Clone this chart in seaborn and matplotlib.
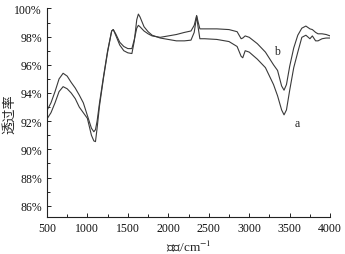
import numpy as np
import pandas as pd
import matplotlib
matplotlib.use("Agg")
import matplotlib.pyplot as plt
import seaborn as sns
from matplotlib.ticker import MultipleLocator, FuncFormatter

wavenumber = [500, 550, 600, 650, 700, 750, 800, 850, 900, 950, 1000, 1050, 1080, 1100,
              1120, 1150, 1200, 1250, 1300, 1320, 1350, 1400, 1450, 1500, 1550, 1580,
              1610, 1630, 1650, 1700, 1750, 1800, 1900, 2000, 2100, 2200, 2280, 2320,
              2350, 2370, 2390, 2450, 2600, 2750, 2850, 2900, 2920, 2950, 3000, 3100,
              3200, 3300, 3350, 3400, 3430, 3460, 3500, 3550, 3600, 3650, 3700, 3750,
              3780, 3820, 3850, 3900, 3950, 4000]

trans_b = [92.75, 93.3, 94.1, 95.0, 95.4, 95.2, 94.75, 94.35, 93.85, 93.3, 92.4, 91.5, 91.25, 91.4,
           92.0, 93.3, 95.2, 97.0, 98.4, 98.5, 98.2, 97.6, 97.3, 97.15, 97.15, 97.8,
           98.6, 98.8, 98.7, 98.4, 98.2, 98.05, 97.95, 98.05, 98.15, 98.3, 98.4, 98.8,
           99.5, 99.0, 98.55, 98.55, 98.55, 98.5, 98.35, 97.85, 97.9, 98.05, 97.95, 97.5,
           96.9, 96.0, 95.6, 94.5, 94.2, 94.6, 95.9, 97.2, 98.1, 98.6, 98.75, 98.55,
           98.5, 98.3, 98.2, 98.2, 98.15, 98.05]

trans_a = [92.15, 92.6, 93.3, 94.1, 94.45, 94.3, 94.0, 93.6, 93.0, 92.6, 92.2, 91.0, 90.6, 90.55,
           91.5, 93.1, 95.1, 96.9, 98.4, 98.5, 98.1, 97.4, 97.0, 96.85, 96.8, 97.7,
           99.2, 99.6, 99.4, 98.7, 98.35, 98.1, 97.9, 97.8, 97.7, 97.7, 97.75, 98.3,
           99.45, 98.6, 97.85, 97.85, 97.8, 97.65, 97.3, 96.6, 96.5, 97.0, 96.9, 96.4,
           95.8, 94.6, 93.8, 92.8, 92.45, 92.8, 94.2, 95.8, 96.9, 97.95, 98.1, 97.85,
           98.05, 97.7, 97.7, 97.85, 97.9, 97.9]

df = pd.DataFrame({
    "wavenumber": wavenumber * 2,
    "transmittance": trans_a + trans_b,
    "sample": ["a"] * len(wavenumber) + ["b"] * len(wavenumber),
})

sns.set_style("ticks")
plt.rcParams["font.family"] = ["Liberation Serif", "Noto Sans CJK SC"]
plt.rcParams["mathtext.fontset"] = "stix"

fig = plt.figure(figsize=(3.45, 2.55), dpi=100)
ax = fig.add_axes([0.136, 0.145, 0.821, 0.818])

sns.lineplot(data=df, x="wavenumber", y="transmittance", hue="sample",
             palette={"a": "#3a3a3a", "b": "#3a3a3a"}, sort=False,
             linewidth=0.8, legend=False, ax=ax)

ax.set_xlim(500, 4000)
ax.set_ylim(85.2, 100)
ax.xaxis.set_major_locator(MultipleLocator(500))
ax.xaxis.set_minor_locator(MultipleLocator(250))
ax.yaxis.set_major_locator(MultipleLocator(2))
ax.yaxis.set_minor_locator(MultipleLocator(1))
ax.yaxis.set_major_formatter(FuncFormatter(lambda v, p: f"{v:.0f}%"))
ax.tick_params(which="both", direction="in", labelsize=8.5, width=0.7, colors="#222222",
               labelcolor="#111111")
ax.tick_params(which="major", length=3)
ax.tick_params(which="minor", length=2)
for s in ["top", "right"]:
    ax.spines[s].set_visible(False)
for s in ["left", "bottom"]:
    ax.spines[s].set_linewidth(0.8)
    ax.spines[s].set_color("#222222")

ax.set_xlabel(r"波数/cm$^{-1}$", fontsize=9.5, labelpad=3)
ax.set_ylabel("透过率", fontsize=9.5)
ax.yaxis.set_label_coords(-0.108, 0.5)

ax.text(3340, 97.0, "b", fontsize=8.5, ha="center", va="center")
ax.text(3590, 91.9, "a", fontsize=8.5, ha="center", va="center")

fig.savefig("out.png", dpi=100)
